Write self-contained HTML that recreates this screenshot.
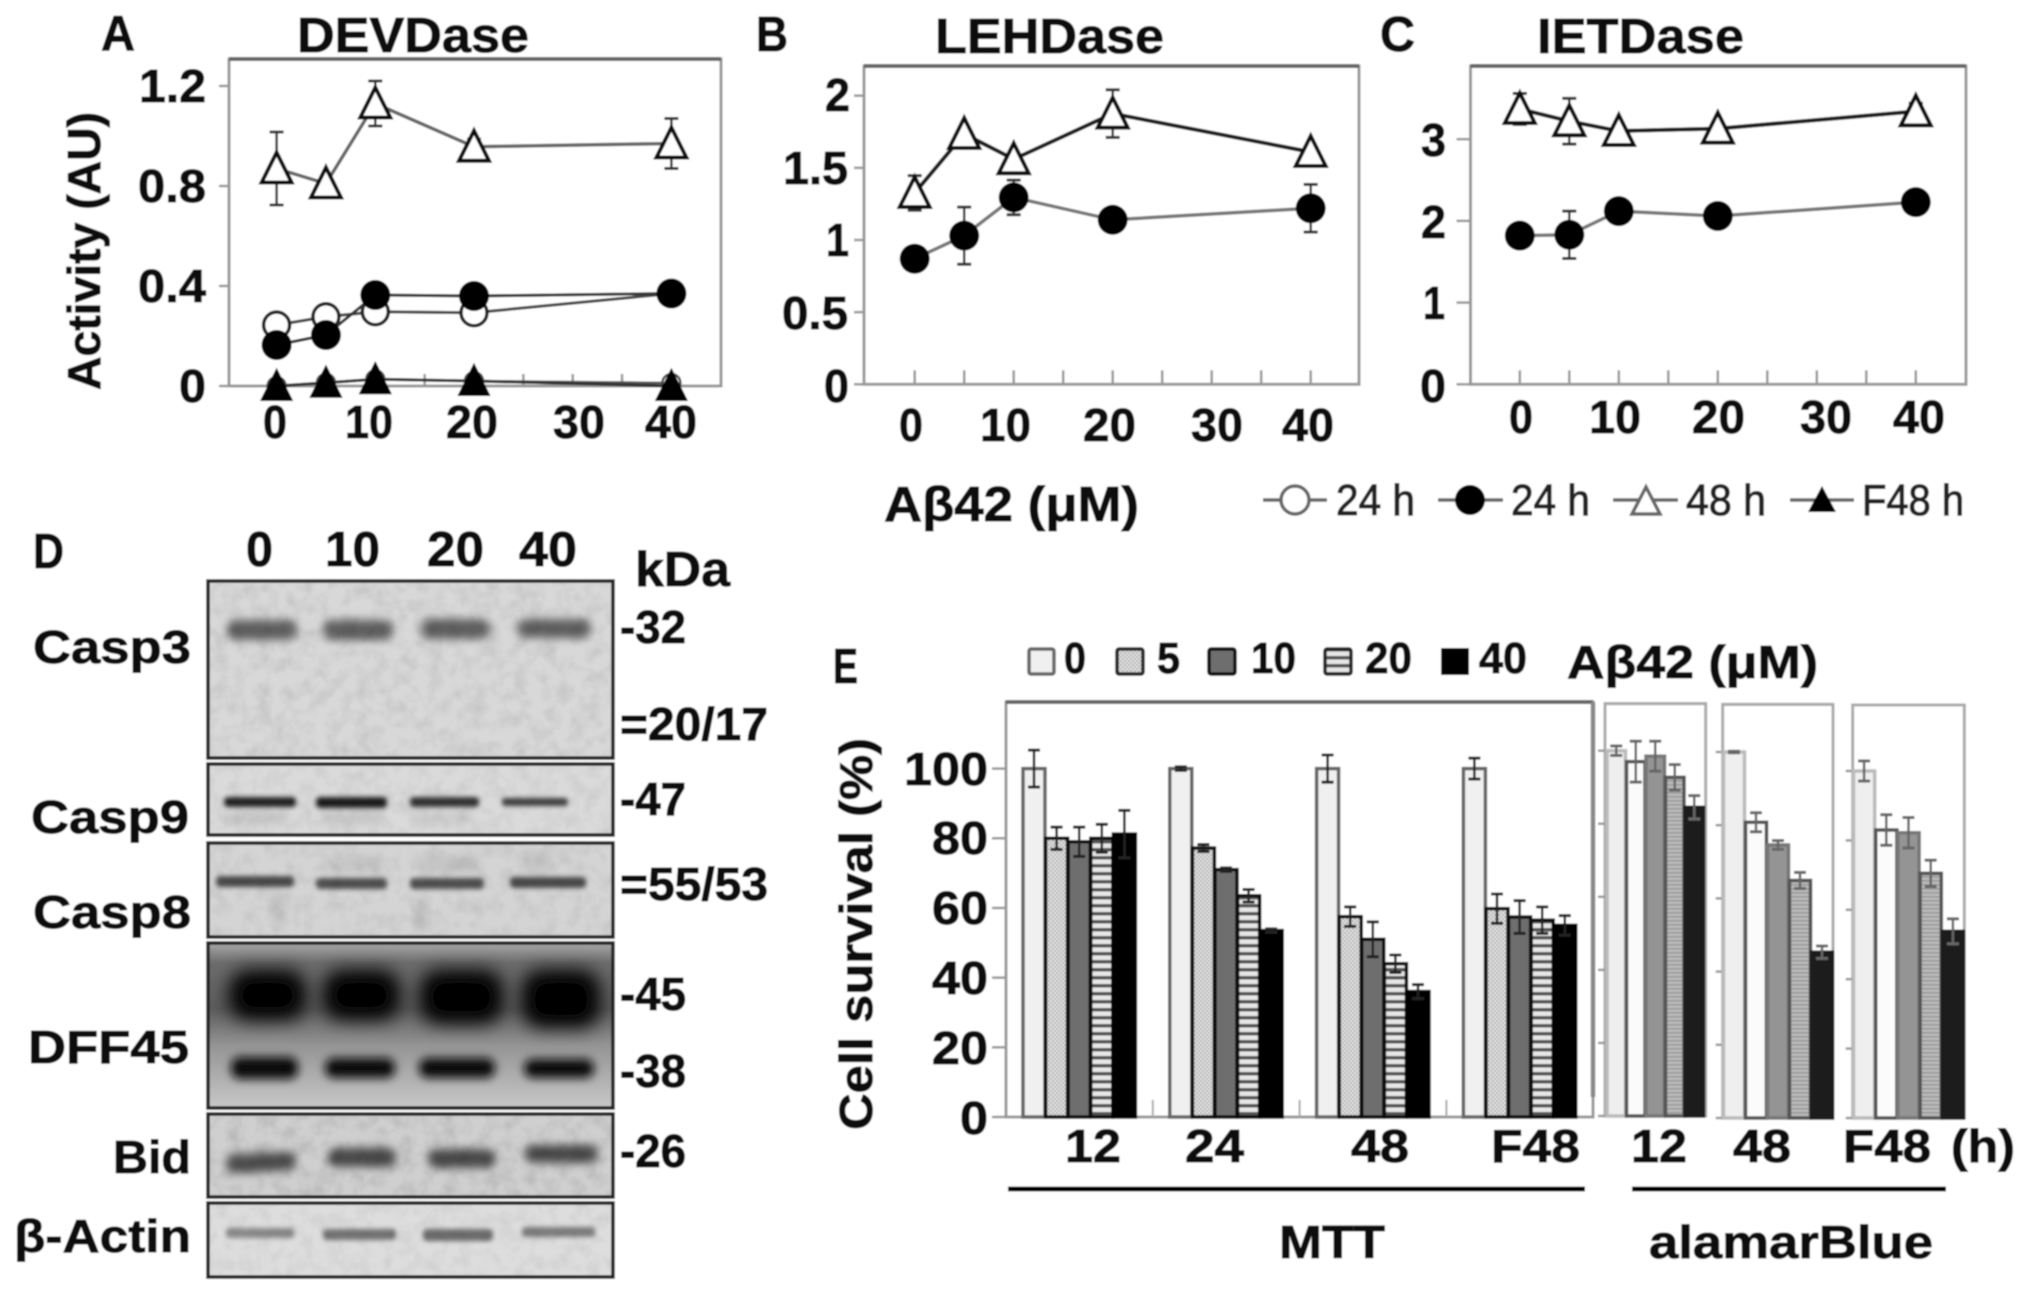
<!DOCTYPE html>
<html lang="en">
<head>
<meta charset="utf-8">
<title>Caspase activity and cell survival figure</title>
<style>
html,body{margin:0;padding:0;background:#fff;width:2031px;height:1292px;overflow:hidden}
svg{display:block}
text{font-family:"Liberation Sans","DejaVu Sans",sans-serif;fill:#0a0a0a;stroke:#0a0a0a;stroke-width:.9px;font-weight:bold}
.t46{font-size:46px}.t48{font-size:49px}.t42{font-size:44px}
.r{font-weight:normal;fill:#222;stroke:#222;stroke-width:1.1px}
</style>
</head>
<body>
<svg id="figure" xmlns="http://www.w3.org/2000/svg" width="2031" height="1292" viewBox="0 0 2031 1292">
<defs>
  <filter id="soft" x="-2%" y="-2%" width="104%" height="104%"><feGaussianBlur stdDeviation="0.8"/></filter>
  <filter id="b2" x="-30%" y="-150%" width="160%" height="400%"><feGaussianBlur stdDeviation="2.4"/></filter>
  <filter id="b3" x="-30%" y="-150%" width="160%" height="400%"><feGaussianBlur stdDeviation="4.5"/></filter>
  <filter id="b6" x="-30%" y="-60%" width="160%" height="220%"><feGaussianBlur stdDeviation="9"/></filter>
  <filter id="grain" x="0" y="0" width="100%" height="100%">
    <feTurbulence type="fractalNoise" baseFrequency="0.07" numOctaves="3" seed="4"/>
    <feColorMatrix type="matrix" values="0 0 0 0 0  0 0 0 0 0  0 0 0 0 0  1.6 0 0 0 -0.62"/>
  </filter>
  <pattern id="dots" width="4" height="4" patternUnits="userSpaceOnUse"><rect width="4" height="4" fill="#e6e6e6"/><rect width="2" height="2" fill="#b4b4b4"/><rect x="2" y="2" width="2" height="2" fill="#b4b4b4"/></pattern>
  <pattern id="stripes" width="8" height="8" patternUnits="userSpaceOnUse"><rect width="8" height="8" fill="#e6e6e6"/><rect width="8" height="3.5" fill="#555"/></pattern>
  <pattern id="fine" width="4" height="4" patternUnits="userSpaceOnUse"><rect width="4" height="4" fill="#bbb"/><rect width="4" height="1.6" fill="#999"/></pattern>
  <linearGradient id="dffBg" x1="0" y1="0" x2="0" y2="1">
    <stop offset="0" stop-color="#a8a8a8"/><stop offset=".12" stop-color="#6c6c6c"/><stop offset=".4" stop-color="#5c5c5c"/><stop offset=".62" stop-color="#949494"/><stop offset="1" stop-color="#c8c8c8"/>
  </linearGradient>
  <clipPath id="dffClip"><rect x="208" y="943" width="405" height="165"/></clipPath>
</defs>
<g id="root" filter="url(#soft)">
  <rect x="0" y="0" width="2031" height="1292" fill="#fff"/>

  <!-- Panel letters and titles -->
  <text class="t48" x="101" y="50" textLength="34" lengthAdjust="spacingAndGlyphs">A</text>
  <text class="t48" x="297" y="52" textLength="232" lengthAdjust="spacingAndGlyphs">DEVDase</text>
  <text class="t48" x="756" y="51" textLength="32" lengthAdjust="spacingAndGlyphs">B</text>
  <text class="t48" x="935" y="53" textLength="229" lengthAdjust="spacingAndGlyphs">LEHDase</text>
  <text class="t48" x="1380" y="51" textLength="35" lengthAdjust="spacingAndGlyphs">C</text>
  <text class="t48" x="1537" y="53" textLength="207" lengthAdjust="spacingAndGlyphs">IETDase</text>

  <!-- Panel A labels -->
  <text class="t46" transform="translate(100,390) rotate(-90)" textLength="278" lengthAdjust="spacingAndGlyphs">Activity (AU)</text>
  <text class="t46" x="139" y="102" textLength="67" lengthAdjust="spacingAndGlyphs">1.2</text>
  <text class="t46" x="138" y="202" textLength="68" lengthAdjust="spacingAndGlyphs">0.8</text>
  <text class="t46" x="138" y="302" textLength="68" lengthAdjust="spacingAndGlyphs">0.4</text>
  <text class="t46" x="179" y="402" textLength="27" lengthAdjust="spacingAndGlyphs">0</text>
  <text class="t46" x="263" y="438" textLength="24" lengthAdjust="spacingAndGlyphs">0</text>
  <text class="t46" x="345" y="438" textLength="48" lengthAdjust="spacingAndGlyphs">10</text>
  <text class="t46" x="446" y="438" textLength="52" lengthAdjust="spacingAndGlyphs">20</text>
  <text class="t46" x="553" y="438" textLength="52" lengthAdjust="spacingAndGlyphs">30</text>
  <text class="t46" x="645" y="438" textLength="52" lengthAdjust="spacingAndGlyphs">40</text>

  <!-- Panel B labels -->
  <text class="t46" x="825" y="111" textLength="25" lengthAdjust="spacingAndGlyphs">2</text>
  <text class="t46" x="783" y="184" textLength="65" lengthAdjust="spacingAndGlyphs">1.5</text>
  <text class="t46" x="826" y="256" textLength="23" lengthAdjust="spacingAndGlyphs">1</text>
  <text class="t46" x="782" y="329" textLength="66" lengthAdjust="spacingAndGlyphs">0.5</text>
  <text class="t46" x="824" y="402" textLength="25" lengthAdjust="spacingAndGlyphs">0</text>
  <text class="t46" x="899" y="441" textLength="24" lengthAdjust="spacingAndGlyphs">0</text>
  <text class="t46" x="980" y="441" textLength="51" lengthAdjust="spacingAndGlyphs">10</text>
  <text class="t46" x="1083" y="441" textLength="53" lengthAdjust="spacingAndGlyphs">20</text>
  <text class="t46" x="1191" y="441" textLength="52" lengthAdjust="spacingAndGlyphs">30</text>
  <text class="t46" x="1282" y="441" textLength="52" lengthAdjust="spacingAndGlyphs">40</text>
  <text class="t48" x="884" y="521" textLength="255" lengthAdjust="spacingAndGlyphs">Aβ42 (μM)</text>

  <!-- Panel C labels -->
  <text class="t46" x="1421" y="156" textLength="25" lengthAdjust="spacingAndGlyphs">3</text>
  <text class="t46" x="1421" y="238" textLength="25" lengthAdjust="spacingAndGlyphs">2</text>
  <text class="t46" x="1423" y="319" textLength="22" lengthAdjust="spacingAndGlyphs">1</text>
  <text class="t46" x="1420" y="402" textLength="26" lengthAdjust="spacingAndGlyphs">0</text>
  <text class="t46" x="1509" y="433" textLength="24" lengthAdjust="spacingAndGlyphs">0</text>
  <text class="t46" x="1589" y="433" textLength="52" lengthAdjust="spacingAndGlyphs">10</text>
  <text class="t46" x="1692" y="433" textLength="53" lengthAdjust="spacingAndGlyphs">20</text>
  <text class="t46" x="1800" y="433" textLength="52" lengthAdjust="spacingAndGlyphs">30</text>
  <text class="t46" x="1893" y="433" textLength="52" lengthAdjust="spacingAndGlyphs">40</text>

  <!-- Line chart legend -->
  <g>
    <g>
      <line x1="1263" y1="500" x2="1327" y2="500" stroke="#666" stroke-width="3.5"/>
      <circle cx="1295" cy="500" r="14" fill="#fff" stroke="#666" stroke-width="3.5"/>
      <text class="t42 r" x="1336" y="515" textLength="79" lengthAdjust="spacingAndGlyphs">24 h</text>
    </g>
    <g>
      <line x1="1438" y1="500" x2="1503" y2="500" stroke="#666" stroke-width="3.5"/>
      <circle cx="1470" cy="500" r="15" fill="#000"/>
      <text class="t42 r" x="1511" y="515" textLength="79" lengthAdjust="spacingAndGlyphs">24 h</text>
    </g>
    <g>
      <line x1="1613" y1="500" x2="1678" y2="500" stroke="#666" stroke-width="3.5"/>
      <polygon points="1646,487 1660,514 1632,514" fill="#fff" stroke="#666" stroke-width="3.5"/>
      <text class="t42 r" x="1686" y="515" textLength="80" lengthAdjust="spacingAndGlyphs">48 h</text>
    </g>
    <g>
      <line x1="1790" y1="500" x2="1854" y2="500" stroke="#666" stroke-width="3.5"/>
      <polygon points="1822,486 1836,512 1808,512" fill="#000"/>
      <text class="t42 r" x="1862" y="515" textLength="102" lengthAdjust="spacingAndGlyphs">F48 h</text>
    </g>
  </g>

  <!-- Panel D western blots -->
  <text class="t48" x="33" y="568" textLength="31" lengthAdjust="spacingAndGlyphs">D</text>
  <text class="t48" x="246" y="566" textLength="27" lengthAdjust="spacingAndGlyphs">0</text>
  <text class="t48" x="325" y="566" textLength="55" lengthAdjust="spacingAndGlyphs">10</text>
  <text class="t48" x="427" y="566" textLength="57" lengthAdjust="spacingAndGlyphs">20</text>
  <text class="t48" x="519" y="566" textLength="58" lengthAdjust="spacingAndGlyphs">40</text>
  <text class="t48" x="635" y="586" textLength="95" lengthAdjust="spacingAndGlyphs">kDa</text>

  <g>
    <rect x="208" y="581" width="405" height="177" fill="#d8d8d8" stroke="#222" stroke-width="3.5"/>
    <rect x="227" y="620" width="70" height="20" rx="9" fill="#5e5e5e" filter="url(#b3)"/>
    <rect x="323" y="620" width="70" height="20" rx="9" fill="#5e5e5e" filter="url(#b3)"/>
    <rect x="421" y="619" width="69" height="20" rx="9" fill="#5e5e5e" filter="url(#b3)"/>
    <rect x="517" y="619" width="74" height="19" rx="9" fill="#5e5e5e" filter="url(#b3)"/>
    <rect x="210" y="583" width="401" height="173" filter="url(#grain)" opacity=".10"/>
  </g>
  <g>
    <rect x="208" y="764" width="405" height="71" fill="#dadada" stroke="#222" stroke-width="3.5"/>
    <rect x="228" y="812" width="60" height="12" fill="#c4c4c4" filter="url(#b3)"/>
    <rect x="322" y="812" width="60" height="12" fill="#c4c4c4" filter="url(#b3)"/>
    <rect x="412" y="812" width="60" height="12" fill="#cacaca" filter="url(#b3)"/>
    <rect x="224" y="797" width="72" height="10" rx="4" fill="#222" filter="url(#b2)"/>
    <rect x="316" y="797" width="71" height="11" rx="4" fill="#1c1c1c" filter="url(#b2)"/>
    <rect x="410" y="797" width="69" height="10" rx="4" fill="#303030" filter="url(#b2)"/>
    <rect x="502" y="798" width="66" height="8" rx="3" fill="#3c3c3c" filter="url(#b2)"/>
    <rect x="210" y="766" width="401" height="67" filter="url(#grain)" opacity=".08"/>
  </g>
  <g>
    <rect x="208" y="843" width="405" height="94" fill="#d4d4d4" stroke="#222" stroke-width="3.5"/>
    <rect x="270" y="895" width="16" height="26" fill="#c2c2c2" filter="url(#b3)"/>
    <rect x="414" y="900" width="14" height="28" fill="#c0c0c0" filter="url(#b3)"/>
    <rect x="330" y="855" width="50" height="18" fill="#c6c6c6" filter="url(#b3)"/>
    <rect x="420" y="855" width="60" height="18" fill="#c4c4c4" filter="url(#b3)"/>
    <rect x="522" y="850" width="30" height="22" fill="#c4c4c4" filter="url(#b3)"/>
    <rect x="216" y="876" width="78" height="11" rx="4" fill="#484848" filter="url(#b2)"/>
    <rect x="316" y="878" width="71" height="11" rx="4" fill="#505050" filter="url(#b2)"/>
    <rect x="410" y="878" width="74" height="11" rx="4" fill="#505050" filter="url(#b2)"/>
    <rect x="510" y="877" width="76" height="11" rx="4" fill="#484848" filter="url(#b2)"/>
    <rect x="210" y="845" width="401" height="90" filter="url(#grain)" opacity=".08"/>
  </g>
  <g>
    <rect x="208" y="943" width="405" height="165" fill="url(#dffBg)" stroke="#222" stroke-width="3.5"/>
    <g clip-path="url(#dffClip)">
      <rect x="229" y="970" width="77" height="50" rx="20" fill="#000" filter="url(#b6)"/>
      <rect x="323" y="970" width="77" height="50" rx="20" fill="#000" filter="url(#b6)"/>
      <rect x="420" y="970" width="83" height="54" rx="20" fill="#000" filter="url(#b6)"/>
      <rect x="522" y="970" width="78" height="58" rx="20" fill="#000" filter="url(#b6)"/>
      <rect x="231" y="1057" width="67" height="22" rx="9" fill="#0a0a0a" filter="url(#b3)"/>
      <rect x="325" y="1058" width="70" height="20" rx="9" fill="#101010" filter="url(#b3)"/>
      <rect x="419" y="1058" width="76" height="20" rx="9" fill="#101010" filter="url(#b3)"/>
      <rect x="524" y="1059" width="70" height="19" rx="9" fill="#101010" filter="url(#b3)"/>
    </g>
  </g>
  <g>
    <rect x="208" y="1114" width="405" height="83" fill="#cfcfcf" stroke="#222" stroke-width="3.5"/>
    <rect x="226" y="1153" width="70" height="19" rx="8" fill="#4e4e4e" filter="url(#b3)" transform="rotate(-3 260 1162)"/>
    <rect x="328" y="1148" width="68" height="19" rx="8" fill="#484848" filter="url(#b3)"/>
    <rect x="428" y="1149" width="67" height="19" rx="8" fill="#484848" filter="url(#b3)"/>
    <rect x="525" y="1145" width="73" height="18" rx="8" fill="#484848" filter="url(#b3)"/>
    <rect x="210" y="1116" width="401" height="79" filter="url(#grain)" opacity=".12"/>
  </g>
  <g>
    <rect x="208" y="1203" width="405" height="74" fill="#dddddd" stroke="#222" stroke-width="3.5"/>
    <rect x="226" y="1228" width="68" height="10" rx="3" fill="#8a8a8a" filter="url(#b2)"/>
    <rect x="323" y="1229" width="73" height="11" rx="4" fill="#727272" filter="url(#b2)"/>
    <rect x="423" y="1229" width="70" height="12" rx="4" fill="#6c6c6c" filter="url(#b2)"/>
    <rect x="522" y="1227" width="73" height="10" rx="3" fill="#7c7c7c" filter="url(#b2)"/>
    <rect x="210" y="1205" width="401" height="70" filter="url(#grain)" opacity=".07"/>
  </g>

  <text class="t46" x="33" y="663" textLength="158" lengthAdjust="spacingAndGlyphs">Casp3</text>
  <text class="t46" x="31" y="833" textLength="158" lengthAdjust="spacingAndGlyphs">Casp9</text>
  <text class="t46" x="33" y="928" textLength="158" lengthAdjust="spacingAndGlyphs">Casp8</text>
  <text class="t46" x="28" y="1063" textLength="161" lengthAdjust="spacingAndGlyphs">DFF45</text>
  <text class="t46" x="113" y="1173" textLength="78" lengthAdjust="spacingAndGlyphs">Bid</text>
  <text class="t46" x="14" y="1252" textLength="177" lengthAdjust="spacingAndGlyphs">β-Actin</text>

  <text class="t46" x="620" y="643" textLength="66" lengthAdjust="spacingAndGlyphs">-32</text>
  <text class="t46" x="620" y="740" textLength="148" lengthAdjust="spacingAndGlyphs">=20/17</text>
  <text class="t46" x="620" y="815" textLength="66" lengthAdjust="spacingAndGlyphs">-47</text>
  <text class="t46" x="620" y="900" textLength="148" lengthAdjust="spacingAndGlyphs">=55/53</text>
  <text class="t46" x="620" y="1010" textLength="66" lengthAdjust="spacingAndGlyphs">-45</text>
  <text class="t46" x="620" y="1087" textLength="66" lengthAdjust="spacingAndGlyphs">-38</text>
  <text class="t46" x="620" y="1167" textLength="66" lengthAdjust="spacingAndGlyphs">-26</text>

  <!-- Panel E labels -->
  <text class="t48" x="833" y="683" textLength="25" lengthAdjust="spacingAndGlyphs">E</text>
  <g>
    <g>
      <rect x="1029" y="649" width="25" height="25" rx="2" fill="#f0f0f0" stroke="#666" stroke-width="3.5"/>
      <text class="t42" x="1064" y="673" textLength="22" lengthAdjust="spacingAndGlyphs">0</text>
    </g>
    <g>
      <rect x="1117" y="649" width="26" height="25" rx="2" fill="url(#dots)" stroke="#222" stroke-width="3.5"/>
      <text class="t42" x="1157" y="673" textLength="23" lengthAdjust="spacingAndGlyphs">5</text>
    </g>
    <g>
      <rect x="1209" y="649" width="26" height="25" rx="2" fill="#6e6e6e" stroke="#111" stroke-width="3.5"/>
      <text class="t42" x="1251" y="673" textLength="45" lengthAdjust="spacingAndGlyphs">10</text>
    </g>
    <g>
      <rect x="1325" y="649" width="26" height="25" rx="2" fill="url(#stripes)" stroke="#222" stroke-width="3.5"/>
      <text class="t42" x="1365" y="673" textLength="47" lengthAdjust="spacingAndGlyphs">20</text>
    </g>
    <g>
      <rect x="1441" y="648" width="28" height="27" fill="#000"/>
      <text class="t42" x="1479" y="673" textLength="48" lengthAdjust="spacingAndGlyphs">40</text>
    </g>
  </g>
  <text class="t46" x="1567" y="678" textLength="251" lengthAdjust="spacingAndGlyphs">Aβ42 (μM)</text>

  <text class="t46" transform="translate(872,1130) rotate(-90)" textLength="392" lengthAdjust="spacingAndGlyphs">Cell survival (%)</text>
  <text class="t46" x="904" y="785" textLength="84" lengthAdjust="spacingAndGlyphs">100</text>
  <text class="t46" x="932" y="854" textLength="56" lengthAdjust="spacingAndGlyphs">80</text>
  <text class="t46" x="932" y="924" textLength="56" lengthAdjust="spacingAndGlyphs">60</text>
  <text class="t46" x="932" y="994" textLength="56" lengthAdjust="spacingAndGlyphs">40</text>
  <text class="t46" x="932" y="1064" textLength="56" lengthAdjust="spacingAndGlyphs">20</text>
  <text class="t46" x="960" y="1134" textLength="28" lengthAdjust="spacingAndGlyphs">0</text>

  <text class="t46" x="1065" y="1162" textLength="56" lengthAdjust="spacingAndGlyphs">12</text>
  <text class="t46" x="1185" y="1162" textLength="59" lengthAdjust="spacingAndGlyphs">24</text>
  <text class="t46" x="1351" y="1162" textLength="58" lengthAdjust="spacingAndGlyphs">48</text>
  <text class="t46" x="1491" y="1162" textLength="89" lengthAdjust="spacingAndGlyphs">F48</text>
  <text class="t46" x="1631" y="1162" textLength="56" lengthAdjust="spacingAndGlyphs">12</text>
  <text class="t46" x="1733" y="1162" textLength="58" lengthAdjust="spacingAndGlyphs">48</text>
  <text class="t46" x="1843" y="1162" textLength="88" lengthAdjust="spacingAndGlyphs">F48</text>
  <text class="t46" x="1951" y="1162" textLength="64" lengthAdjust="spacingAndGlyphs">(h)</text>
  <rect x="1008" y="1186.5" width="577" height="5" fill="#000"/>
  <rect x="1632" y="1186.5" width="314" height="5" fill="#000"/>
  <text class="t46" x="1279" y="1258" textLength="106" lengthAdjust="spacingAndGlyphs">MTT</text>
  <text class="t46" x="1649" y="1258" textLength="284" lengthAdjust="spacingAndGlyphs">alamarBlue</text>

  <g id="plots"></g>
</g>
</svg>

<script>
/* ---------- Line chart data ---------- */
const doses = [0, 5, 10, 20, 40];
const doseMinorTicks = [0, 5, 10, 15, 20, 25, 30, 35, 40];

const aTicksY = [0, 0.4, 0.8, 1.2];
const aOpenCircle = [0.244, 0.277, 0.297, 0.293, 0.37];
const aOpenCircleErr = [0.02, 0.02, 0.03, 0.03, 0.01];
const aFilledCircle = [0.164, 0.204, 0.364, 0.36, 0.37];
const aFilledCircleErr = [0.04, 0.02, 0.02, 0.02, 0.01];
const aOpenTriangle = [0.87, 0.81, 1.13, 0.957, 0.97];
const aOpenTriangleErr = [0.146, 0.01, 0.09, 0.03, 0.1];
const aFaintCircle = [0, 0.013, 0.027, 0.02, 0.012];
const aFilledTriangle = [0, 0.013, 0.027, 0.02, 0];

const bTicksY = [0, 0.5, 1, 1.5, 2];
const bFilledCircle = [0.87, 1.03, 1.295, 1.14, 1.22];
const bFilledCircleErr = [0.03, 0.198, 0.12, 0.05, 0.165];
const bOpenTriangle = [1.326, 1.735, 1.56, 1.876, 1.61];
const bOpenTriangleErr = [0.12, 0.03, 0.03, 0.165, 0.03];

const cTicksY = [0, 1, 2, 3];
const cFilledCircle = [1.82, 1.83, 2.12, 2.06, 2.23];
const cFilledCircleErr = [0.05, 0.29, 0.05, 0.05, 0.05];
const cOpenTriangle = [3.37, 3.22, 3.1, 3.13, 3.34];
const cOpenTriangleErr = [0.19, 0.28, 0.06, 0.06, 0.1];

/* ---------- Bar chart data ---------- */
const survivalTicks = [0, 20, 40, 60, 80, 100];
const mttCategories = ['12', '24', '48', 'F48'];
const mttDose0 = [100, 100, 100, 100];
const mttDose5 = [80, 77.2, 57.5, 59.8];
const mttDose10 = [79, 71, 51, 57.4];
const mttDose20 = [80, 63.5, 44, 56.5];
const mttDose40 = [81.2, 53.5, 36, 55];
const mttErr0 = [5.3, 0.5, 3.9, 3];
const mttErr5 = [3.2, 1, 2.8, 4.2];
const mttErr10 = [4.2, 0.5, 5, 4.7];
const mttErr20 = [4, 1.8, 2.5, 3.8];
const mttErr40 = [6.8, 0.5, 2, 2.8];

const alamar12 = [100, 97, 98.5, 92.7, 84.5];
const alamar12Err = [1.3, 5.6, 4.1, 3.5, 3.2];
const alamar48 = [100, 80.8, 74.6, 64.9, 45.3];
const alamar48Err = [0.2, 2.6, 1.2, 2.2, 1.7];
const alamarF48 = [100, 83, 82.2, 70.5, 53.8];
const alamarF48Err = [2.9, 4.4, 4.4, 3.8, 3.6];

/* ---------- Helpers ---------- */
const NS = 'http://www.w3.org/2000/svg';
const plots = document.getElementById('plots');

function make(tag, parent) {
  const el = document.createElementNS(NS, tag);
  
  parent.appendChild(el);
  return el;
}

function drawLineSegment(parent, x1, y1, x2, y2, color, width) {
  const seg = make('line', parent);
  
  seg.setAttribute('x1', x1);
  seg.setAttribute('y1', y1);
  seg.setAttribute('x2', x2);
  seg.setAttribute('y2', y2);
  seg.setAttribute('stroke', color);
  seg.setAttribute('stroke-width', width);
}

function drawFrame(parent, box, color, topColor, topWidth) {
  const frame = make('rect', parent);
  
  frame.setAttribute('x', box.left);
  frame.setAttribute('y', box.top);
  frame.setAttribute('width', box.right - box.left);
  frame.setAttribute('height', box.bottom - box.top);
  frame.setAttribute('fill', 'none');
  frame.setAttribute('stroke', color);
  frame.setAttribute('stroke-width', '3');
  const topEdge = make('line', parent);
  
  topEdge.setAttribute('x1', box.left);
  topEdge.setAttribute('y1', box.top);
  topEdge.setAttribute('x2', box.right);
  topEdge.setAttribute('y2', box.top);
  topEdge.setAttribute('stroke', topColor);
  topEdge.setAttribute('stroke-width', topWidth);
}

function drawYTicks(parent, ticks, yScale, left, len) {
  ticks.forEach(function (t) {
    const tick = make('line', parent);
    
    tick.setAttribute('x1', left - len);
    tick.setAttribute('x2', left);
    tick.setAttribute('y1', yScale(t));
    tick.setAttribute('y2', yScale(t));
    tick.setAttribute('stroke', '#999');
    tick.setAttribute('stroke-width', '2.5');
  });
}

function drawXTicks(parent, ticks, xScale, bottom, len) {
  ticks.forEach(function (t) {
    const tick = make('line', parent);
    
    tick.setAttribute('x1', xScale(t));
    tick.setAttribute('x2', xScale(t));
    tick.setAttribute('y1', bottom - len);
    tick.setAttribute('y2', bottom);
    tick.setAttribute('stroke', '#999');
    tick.setAttribute('stroke-width', '2.5');
  });
}

function drawSeries(parent, xs, values, errs, xScale, yScale, kind, lineColor, lineWidth) {
  const group = make('g', parent);
  
  const pts = values.map(function (v, i) { return xScale(xs[i]) + ',' + yScale(v); }).join(' ');
  const path = make('polyline', group);
  
  path.setAttribute('points', pts);
  path.setAttribute('fill', 'none');
  path.setAttribute('stroke', lineColor);
  path.setAttribute('stroke-width', lineWidth);
  values.forEach(function (v, i) {
    const px = xScale(xs[i]);
    const py = yScale(v);
    if (errs) {
      const hi = yScale(v + errs[i]);
      const lo = yScale(v - errs[i]);
      drawLineSegment(group, px, hi, px, lo, '#333', 2.5);
      drawLineSegment(group, px - 7, hi, px + 7, hi, '#333', 3);
      drawLineSegment(group, px - 7, lo, px + 7, lo, '#333', 3);
    }
    let mark;
    if (kind === 'circle-small') {
      mark = make('circle', group);
      
      mark.setAttribute('cx', px);
      mark.setAttribute('cy', py);
      mark.setAttribute('r', 9);
      mark.setAttribute('fill', '#fff');
      mark.setAttribute('stroke', '#444');
      mark.setAttribute('stroke-width', '2.5');
    } else if (kind === 'circle-open' || kind === 'circle-filled') {
      mark = make('circle', group);
      
      mark.setAttribute('cx', px);
      mark.setAttribute('cy', py);
      mark.setAttribute('r', kind === 'circle-open' ? 13 : 15);
      mark.setAttribute('fill', kind === 'circle-open' ? '#fff' : '#000');
      mark.setAttribute('stroke', kind === 'circle-open' ? '#222' : 'none');
      mark.setAttribute('stroke-width', '3.5');
    } else {
      mark = make('polygon', group);
      
      mark.setAttribute('points', px + ',' + (py - 16) + ' ' + (px + 15) + ',' + (py + 14) + ' ' + (px - 15) + ',' + (py + 14));
      mark.setAttribute('fill', kind === 'triangle-open' ? '#fff' : '#000');
      mark.setAttribute('stroke', kind === 'triangle-open' ? '#111' : '#000');
      mark.setAttribute('stroke-width', kind === 'triangle-open' ? '4' : '2');
    }
  });
}

/* ---------- Panel A ---------- */
const boxA = { left: 229, right: 721, top: 59, bottom: 386 };
function xA(v) { return 276.6 + 9.87 * v; }
function yA(v) { return 386 - 250 * v; }
const panelA = make('g', plots);

drawFrame(panelA, boxA, '#999', '#666', 4);
drawYTicks(panelA, aTicksY, yA, boxA.left, 10);
drawXTicks(panelA, doseMinorTicks, xA, boxA.bottom, 12);
drawSeries(panelA, doses, aOpenCircle, aOpenCircleErr, xA, yA, 'circle-open', '#444', 3);
drawSeries(panelA, doses, aFilledCircle, aFilledCircleErr, xA, yA, 'circle-filled', '#333', 3);
drawSeries(panelA, doses, aOpenTriangle, aOpenTriangleErr, xA, yA, 'triangle-open', '#666', 3.5);
drawSeries(panelA, doses, aFaintCircle, null, xA, yA, 'circle-small', '#555', 2.5);
drawSeries(panelA, doses, aFilledTriangle, null, xA, yA, 'triangle-filled', '#333', 3);

/* ---------- Panel B ---------- */
const boxB = { left: 864, right: 1359, top: 66, bottom: 384.3 };
function xB(v) { return 914.7 + 9.9 * v; }
function yB(v) { return 384.3 - 144.3 * v; }
const panelB = make('g', plots);

drawFrame(panelB, boxB, '#999', '#666', 4);
drawYTicks(panelB, bTicksY, yB, boxB.left, 10);
drawXTicks(panelB, doseMinorTicks, xB, boxB.bottom, 14);
drawSeries(panelB, doses, bFilledCircle, bFilledCircleErr, xB, yB, 'circle-filled', '#777', 3.5);
drawSeries(panelB, doses, bOpenTriangle, bOpenTriangleErr, xB, yB, 'triangle-open', '#1a1a1a', 4);

/* ---------- Panel C ---------- */
const boxC = { left: 1470.5, right: 1966, top: 66, bottom: 384.3 };
function xC(v) { return 1519.8 + 9.9 * v; }
function yC(v) { return 384.3 - 81.7 * v; }
const panelC = make('g', plots);

drawFrame(panelC, boxC, '#999', '#666', 4);
drawYTicks(panelC, cTicksY, yC, boxC.left, 14);
drawXTicks(panelC, doseMinorTicks, xC, boxC.bottom, 14);
drawSeries(panelC, doses, cFilledCircle, cFilledCircleErr, xC, yC, 'circle-filled', '#777', 3.5);
drawSeries(panelC, doses, cOpenTriangle, cOpenTriangleErr, xC, yC, 'triangle-open', '#1a1a1a', 4);

/* ---------- Panel E bars ---------- */
function drawBar(parent, x, w, value, err, yScale, fill, stroke, strokeWidth, errColor) {
  const bar = make('rect', parent);
  
  bar.setAttribute('x', x);
  bar.setAttribute('y', yScale(value));
  bar.setAttribute('width', w);
  bar.setAttribute('height', yScale(0) - yScale(value));
  bar.setAttribute('fill', fill);
  bar.setAttribute('stroke', stroke);
  bar.setAttribute('stroke-width', strokeWidth);
  const cx = x + w / 2;
  const hi = yScale(value + err);
  const lo = yScale(value - err);
  drawLineSegment(parent, cx, hi, cx, lo, errColor, 2.5);
  drawLineSegment(parent, cx - 6, hi, cx + 6, hi, errColor, 3);
  drawLineSegment(parent, cx - 6, lo, cx + 6, lo, errColor, 3);
}

const mttBox = { left: 1006, right: 1593, top: 702, bottom: 1117 };
function yMtt(v) { return 1117 - 3.484 * v; }
function xMtt(group, dose) { return 1023 + 146.8 * group + 22.6 * dose; }
const mttSeries = [mttDose0, mttDose5, mttDose10, mttDose20, mttDose40];
const mttErrors = [mttErr0, mttErr5, mttErr10, mttErr20, mttErr40];
const mttFills = ['#f0f0f0', 'url(#dots)', '#6e6e6e', 'url(#stripes)', '#000'];
const mttStrokes = ['#666', '#111', '#111', '#111', '#000'];
const panelE = make('g', plots);

drawFrame(panelE, mttBox, '#999', '#666', 4);
drawYTicks(panelE, survivalTicks, yMtt, mttBox.left, 14);
drawLineSegment(panelE, mttBox.right, mttBox.top, mttBox.right, mttBox.bottom - 20, '#888', 4.5);
mttCategories.forEach(function (cat, g) {
  if (g > 0) {
    const sep = make('line', panelE);
    
    sep.setAttribute('x1', xMtt(g, 0) - 17);
    sep.setAttribute('x2', xMtt(g, 0) - 17);
    sep.setAttribute('y1', mttBox.bottom - 17);
    sep.setAttribute('y2', mttBox.bottom);
    sep.setAttribute('stroke', '#aaa');
    sep.setAttribute('stroke-width', '2');
  }
  mttSeries.forEach(function (series, d) {
    drawBar(panelE, xMtt(g, d), 22, series[g], mttErrors[d][g], yMtt, mttFills[d], mttStrokes[d], 3.5, '#222');
  });
});

const alamarFills = ['#efefef', '#fbfbfb', '#949494', 'url(#fine)', '#1c1c1c'];
const alamarStrokes = ['#bbb', '#555', '#777', '#555', '#1c1c1c'];

function drawAlamar(name, box, start, w, y100, values, errs) {
  const g = make('g', plots);
  
  function y(v) { return box.bottom - (box.bottom - y100) * v / 100; }
  drawFrame(g, box, '#aaa', '#aaa', 3);
  drawYTicks(g, survivalTicks, y, box.left, 7);
  values.forEach(function (v, d) {
    drawBar(g, start + w * d, w - 1, v, errs[d], y, alamarFills[d], alamarStrokes[d], 3.5, '#666');
  });
}

drawAlamar('12', { left: 1605, right: 1705.7, top: 703.6, bottom: 1116 }, 1607, 19.5, 750.7, alamar12, alamar12Err);
drawAlamar('48', { left: 1722.7, right: 1833, top: 704.4, bottom: 1118 }, 1723.5, 22, 752, alamar48, alamar48Err);
drawAlamar('F48', { left: 1852.7, right: 1964.3, top: 705, bottom: 1118 }, 1853.5, 22.2, 771, alamarF48, alamarF48Err);
</script>
</body>
</html>
